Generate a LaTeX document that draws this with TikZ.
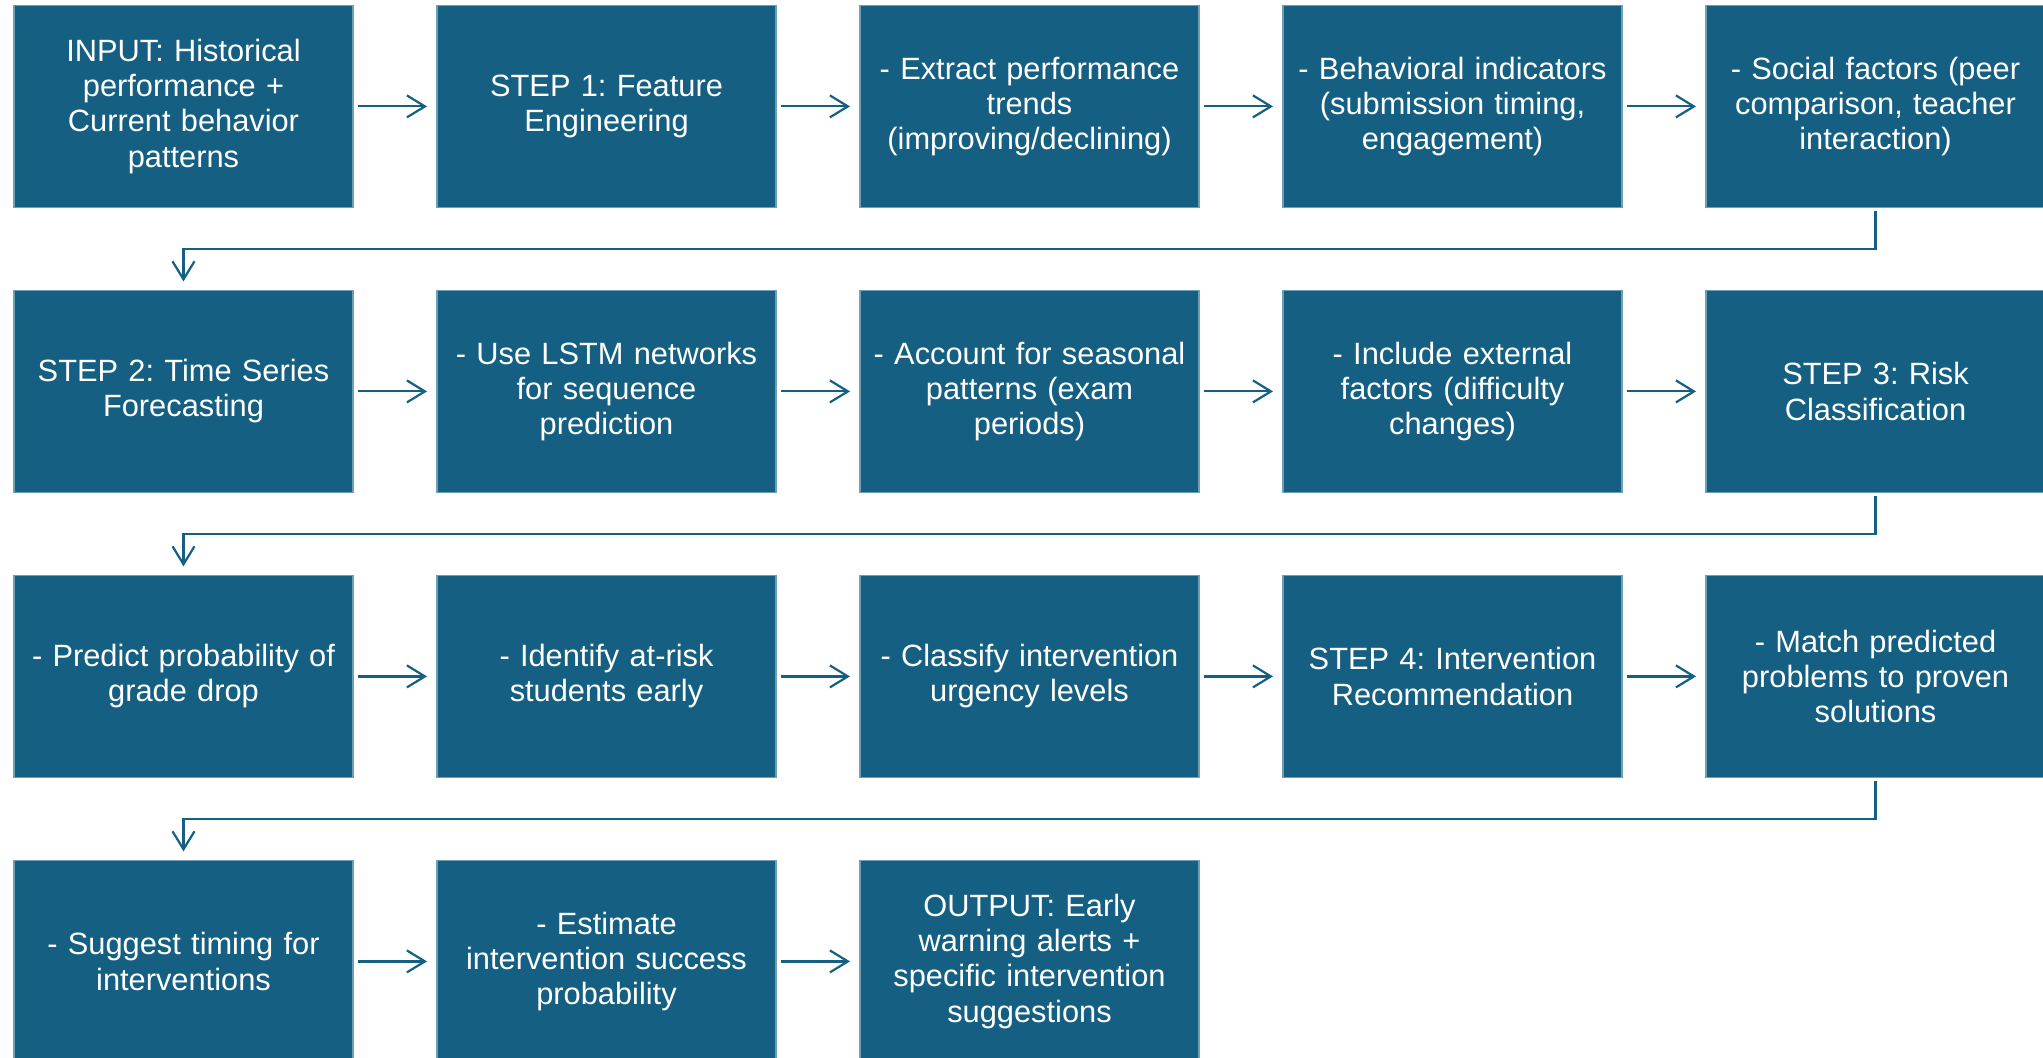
\documentclass[tikz,border=0pt]{standalone}
\usepackage{fontspec}
\setmainfont{Liberation Sans}
\usepackage{xcolor}
\definecolor{myblue}{HTML}{156082}
\definecolor{myedge}{HTML}{6F9FB6}
\usetikzlibrary{positioning,calc,arrows.meta}
\frenchspacing

\tikzset{
    stepbox/.style={rectangle, fill=myblue, draw=myedge, line width=0.6pt, text=white,
        minimum width=169.5pt, minimum height=101pt, inner sep=0pt, outer sep=0pt,
        text width=160pt, align=center, font=\fontsize{15.4pt}{17.6pt}\selectfont},
    flow/.style={draw=myblue, line width=1.1pt,
        -{Straight Barb[length=9pt,width=11pt,line width=1.1pt]}},
}

\begin{document}
\begin{tikzpicture}[node distance=41.5pt and 42pt]
        \useasboundingbox (0,0) rectangle (1021.5pt,-529pt);
        \node[stepbox] (input) at (91.75pt,-53.2pt) {INPUT: Historical\\performance +\\Current behavior\\patterns};
        \node[stepbox, right=of input] (feat) {STEP 1: Feature\\Engineering};
        \node[stepbox, right=of feat] (trends) {- Extract performance\\trends\\(improving/declining)};
        \node[stepbox, right=of trends] (behav) {- Behavioral indicators\\(submission timing,\\engagement)};
        \node[stepbox, right=of behav] (social) {- Social factors (peer\\comparison, teacher\\interaction)};

        \node[stepbox, below=of input] (series) {STEP 2: Time Series\\Forecasting};
        \node[stepbox, right=of series] (lstm) {- Use LSTM networks\\for sequence\\prediction};
        \node[stepbox, right=of lstm] (season) {- Account for seasonal\\patterns (exam\\periods)};
        \node[stepbox, right=of season] (extern) {- Include external\\factors (difficulty\\changes)};
        \node[stepbox, right=of extern] (risk) {STEP 3: Risk\\Classification};

        \node[stepbox, below=of series] (drop) {- Predict probability of\\grade drop};
        \node[stepbox, right=of drop] (atrisk) {- Identify at-risk\\students early};
        \node[stepbox, right=of atrisk] (urgency) {- Classify intervention\\urgency levels};
        \node[stepbox, right=of urgency] (recom) {STEP 4: Intervention\\Recommendation};
        \node[stepbox, right=of recom] (match) {- Match predicted\\problems to proven\\solutions};

        \node[stepbox, below=of drop] (timing) {- Suggest timing for\\interventions};
        \node[stepbox, right=of timing] (success) {- Estimate\\intervention success\\probability};
        \node[stepbox, right=of success] (output) {OUTPUT: Early\\warning alerts +\\specific intervention\\suggestions};

        \draw[flow, shorten <=2.5pt, shorten >=5pt] (input) -- (feat);
        \draw[flow, shorten <=2.5pt, shorten >=5pt] (feat) -- (trends);
        \draw[flow, shorten <=2.5pt, shorten >=5pt] (trends) -- (behav);
        \draw[flow, shorten <=2.5pt, shorten >=5pt] (behav) -- (social);
        \draw[flow, shorten <=2pt, shorten >=4.5pt] (social.south) -- ++(0,-20.75pt) -| (series.north);

        \draw[flow, shorten <=2.5pt, shorten >=5pt] (series) -- (lstm);
        \draw[flow, shorten <=2.5pt, shorten >=5pt] (lstm) -- (season);
        \draw[flow, shorten <=2.5pt, shorten >=5pt] (season) -- (extern);
        \draw[flow, shorten <=2.5pt, shorten >=5pt] (extern) -- (risk);
        \draw[flow, shorten <=2pt, shorten >=4.5pt] (risk.south) -- ++(0,-20.75pt) -| (drop.north);

        \draw[flow, shorten <=2.5pt, shorten >=5pt] (drop) -- (atrisk);
        \draw[flow, shorten <=2.5pt, shorten >=5pt] (atrisk) -- (urgency);
        \draw[flow, shorten <=2.5pt, shorten >=5pt] (urgency) -- (recom);
        \draw[flow, shorten <=2.5pt, shorten >=5pt] (recom) -- (match);
        \draw[flow, shorten <=2pt, shorten >=4.5pt] (match.south) -- ++(0,-20.75pt) -| (timing.north);

        \draw[flow, shorten <=2.5pt, shorten >=5pt] (timing) -- (success);
        \draw[flow, shorten <=2.5pt, shorten >=5pt] (success) -- (output);
    \end{tikzpicture}
\end{document}
